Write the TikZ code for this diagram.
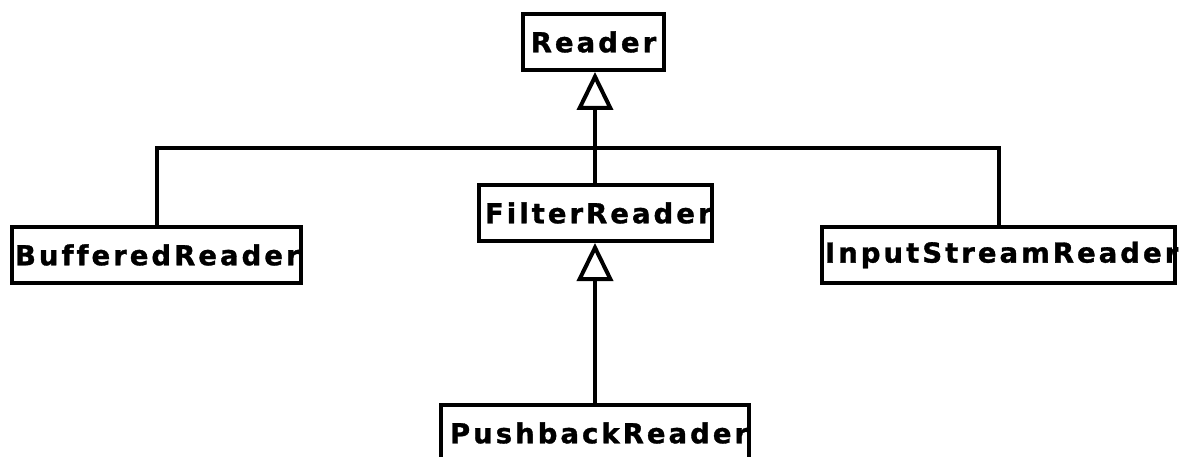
\documentclass[tikz,border=0pt]{standalone}
\usepackage{fontspec}
\usepackage{tikz}
\usetikzlibrary{arrows.meta}
\newfontfamily\umlfont[LetterSpace=11,Ligatures=NoCommon,FakeBold=1.2]{DejaVu Sans}

\begin{document}
\begin{tikzpicture}[x=1pt,y=-1pt,
  cls/.style={draw,line width=4pt,fill=white,inner sep=0pt,
     minimum height=56pt,font=\fontsize{27.5}{30}\selectfont\umlfont\bfseries},
  wide/.style={cls,align=left,text width=#1},
  isa/.style={draw,line width=4pt,-{Triangle[open,length=38pt,width=36pt]}}]
\useasboundingbox (0,0) rectangle (1182,457);
\node[cls,minimum width=141pt] (reader) at (593.5,42) {Reader};
\node[wide=220pt,inner xsep=6.5pt] (filter) at (595,213) {FilterReader};
\node[wide=283pt,inner xsep=3pt] (buffered) at (156.5,255) {BufferedReader};
\node[wide=347pt,inner xsep=3pt] (isr) at (998.5,255) {InputStreamReader};
\node[wide=290pt,inner xsep=9pt] (pushback) at (595,433) {PushbackReader};
\coordinate (bar) at (595,148);
\draw[line width=4pt] (buffered.north) |- (bar) -| (isr.north);
\draw[isa] (filter.north) -- (filter.north |- reader.south);
\draw[isa] (pushback.north) -- (filter.south);
\end{tikzpicture}
\end{document}
